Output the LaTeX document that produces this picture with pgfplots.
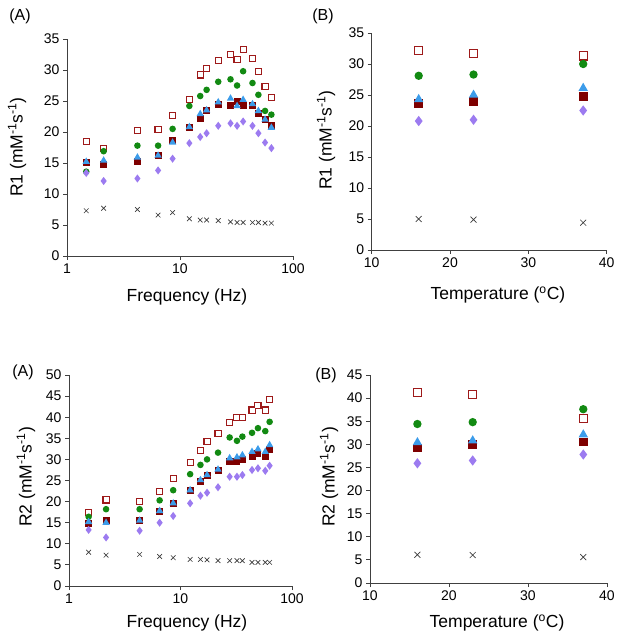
\documentclass[border=0pt]{standalone}
\usepackage{pgfplots}
\usepackage{pgfplotstable}
\pgfplotsset{compat=1.18}
\usepackage{fontspec}
\setmainfont{Liberation Sans}
\definecolor{dkred}{HTML}{9E1A1A}
\definecolor{fred}{HTML}{7E0000}
\definecolor{grn}{HTML}{128A12}
\definecolor{blu}{HTML}{3C9CEA}
\definecolor{pur}{HTML}{9C7BF0}
\definecolor{crs}{HTML}{3A3A3A}
\pgfplotstableread{
f     sqo  gc   sqf  tri  dia  crx
1.48  18.5 13.6 15.1 15.2 13.4 7.3
2.11  17.3 16.9 14.7 15.4 12.1 7.7
4.2   20.2 17.8 15.3 15.9 12.5 7.5
6.4   20.4 17.8 16.2 16.2 13.8 6.6
8.6   22.6 20.5 18.6 18.3 15.7 7.0
12.1  25.2 24.2 20.7 20.8 18.2 6.0
15.1  29.2 25.8 22.1 22.9 19.2 5.8
17.2  30.3 26.8 23.4 23.5 19.8 5.8
21.8  31.5 28.1 24.4 24.8 21.0 5.7
28    32.5 28.5 24.2 25.4 21.4 5.5
32    31.7 27.5 24.9 24.2 21.0 5.4
36.2  33.3 29.8 24.2 25.2 21.7 5.4
43.8  31.8 27.9 24.2 24.5 21.0 5.4
49.4  29.8 26.0 23.0 23.4 19.8 5.4
56.6  27.4 23.4 22.0 22.0 18.3 5.3
64.4  25.6 22.8 21.0 20.7 17.4 5.3
}\tabTL
\pgfplotstableread{
t  sqo  gc   sqf  tri  dia  crx
16 32.2 28.1 23.6 24.3 20.8 5.0
23 31.7 28.3 24.0 25.0 21.0 4.9
37 31.3 30.0 24.8 26.1 22.5 4.4
}\tabTR
\pgfplotstableread{
f     sqo  gc   sqf  tri  dia  crx
1.5   17.5 16.4 14.8 15.2 13.3 8.0
2.15  20.4 18.2 15.6 15.0 11.5 7.3
4.3   20.1 18.2 15.6 15.5 13.1 7.5
6.5   22.4 20.3 17.6 17.8 15.0 7.0
8.6   25.4 22.7 19.6 19.6 16.6 6.7
12.2  29.2 26.5 22.7 22.7 19.6 6.3
15.1  32.1 28.7 24.7 25.1 21.4 6.3
17.3  34.3 30.0 26.1 26.3 22.1 6.2
21.7  36.2 31.6 27.3 27.6 23.4 6.0
27.6  38.7 35.2 29.5 30.3 25.9 6.0
32.1  40.0 34.4 29.5 30.5 25.9 6.0
35.9  39.9 35.4 30.0 31.0 26.3 6.0
43.8  41.7 36.3 30.6 31.8 27.5 5.6
49.5  42.7 37.4 31.4 32.4 27.9 5.6
57.6  41.7 36.7 30.8 31.8 27.3 5.6
63    44.1 38.9 32.4 33.4 28.5 5.6
}\tabBL
\pgfplotstableread{
t  sqo  gc   sqf  tri  dia  crx
16 41.2 34.4 29.2 30.4 25.9 6.1
23 40.7 34.8 29.9 30.8 26.5 6.05
37 35.6 37.6 30.5 32.1 27.8 5.6
}\tabBR
\pgfplotsset{
 panel/.style={scale only axis, axis lines=left, axis line style={-, draw=black!75, line width=0.9pt},
   tick style={draw=black!75, line width=0.9pt}, tick align=outside, major tick length=4pt, minor tick length=0pt,
   tick label style={font=\fontsize{14}{16}\selectfont}, label style={font=\fontsize{17.5}{20}\selectfont},
   /pgf/number format/assume math mode=true, clip=false, only marks},
 nostroke/.style={mark options={draw opacity=0}},
}
\newcommand{\allseries}[3]{% table, xcol, scale
  \addplot[color=crs, mark=x, line width=0.65pt, mark size=#3*3.3pt] table[x=#2,y=crx]{#1};
  \addplot[color=dkred, nostroke, mark=square*, mark size=#3*3.6pt] table[x=#2,y=sqo]{#1};
  \addplot[color=white, nostroke, mark=square*, mark size=#3*3.6pt-1.1pt] table[x=#2,y=sqo]{#1};
  \addplot[color=grn, nostroke, mark=*, mark size=#3*3.3pt] table[x=#2,y=gc]{#1};
  \addplot[color=fred, nostroke, mark=square*, mark size=#3*3.5pt] table[x=#2,y=sqf]{#1};
  \addplot[color=blu, nostroke, mark=triangle*, mark size=#3*4.3pt] table[x=#2,y=tri]{#1};
  \addplot[color=pur, nostroke, mark=diamond*, mark size=#3*4.1pt] table[x=#2,y=dia]{#1};
}
\begin{document}
\begin{tikzpicture}
\useasboundingbox (0pt,0pt) rectangle (624pt,641pt);
% ---------- top left
\begin{axis}[panel, at={(67pt,385pt)}, anchor=south west, width=226pt, height=217pt,
  xmode=log, xmin=1, xmax=100, xtick={1,10,100}, xticklabels={1,10,100},
  ymin=0, ymax=35, ytick={0,5,...,35},
  xlabel={Frequency (Hz)}, ylabel={R1 (mM\textsuperscript{-1}s\textsuperscript{-1})},
  x label style={at={(axis description cs:0.531,-0.189)}, anchor=center},
  y label style={at={(axis description cs:-0.221,0.502)}, anchor=center}]
\allseries{\tabTL}{f}{1}
\node[font=\fontsize{16}{18}\selectfont] at (axis description cs:-0.208,1.106) {(A)};
\end{axis}
% ---------- top right
\begin{axis}[panel, at={(371.7pt,391pt)}, anchor=south west, width=235pt, height=217pt,
  xmin=10, xmax=40, xtick={10,20,30,40},
  ymin=0, ymax=35, ytick={0,5,...,35},
  xlabel={Temperature (\textsuperscript{o}C)}, ylabel={R1 (mM\textsuperscript{-1}s\textsuperscript{-1})},
  x label style={at={(axis description cs:0.537,-0.207)}, anchor=center},
  y label style={at={(axis description cs:-0.194,0.507)}, anchor=center}]
\allseries{\tabTR}{t}{1.27}
\node[font=\fontsize{16}{18}\selectfont] at (axis description cs:-0.207,1.078) {(B)};
\end{axis}
% ---------- bottom left
\begin{axis}[panel, at={(69pt,55pt)}, anchor=south west, width=223pt, height=211pt,
  xmode=log, xmin=1, xmax=100, xtick={1,10,100}, xticklabels={1,10,100},
  ymin=0, ymax=50, ytick={0,5,...,50},
  xlabel={Frequency (Hz)}, ylabel={R2 (mM\textsuperscript{-1}s\textsuperscript{-1})},
  x label style={at={(axis description cs:0.529,-0.175)}, anchor=center},
  y label style={at={(axis description cs:-0.193,0.517)}, anchor=center}]
\allseries{\tabBL}{f}{1}
\node[font=\fontsize{16}{18}\selectfont] at (axis description cs:-0.206,1.014) {(A)};
\end{axis}
% ---------- bottom right
\begin{axis}[panel, at={(370pt,58pt)}, anchor=south west, width=237pt, height=208pt,
  xmin=10, xmax=40, xtick={10,20,30,40},
  ymin=0, ymax=45, ytick={0,5,...,45},
  xlabel={Temperature (\textsuperscript{o}C)}, ylabel={R2 (mM\textsuperscript{-1}s\textsuperscript{-1})},
  x label style={at={(axis description cs:0.536,-0.192)}, anchor=center},
  y label style={at={(axis description cs:-0.173,0.51)}, anchor=center}]
\allseries{\tabBR}{t}{1.27}
\node[font=\fontsize{16}{18}\selectfont] at (axis description cs:-0.186,1.0) {(B)};
\end{axis}
\end{tikzpicture}
\end{document}
